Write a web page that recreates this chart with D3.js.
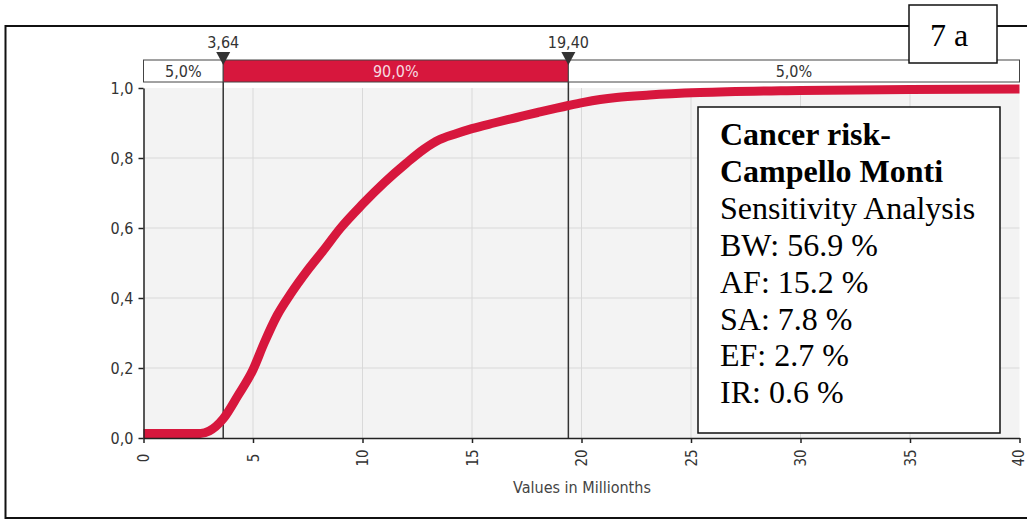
<!DOCTYPE html>
<html><head><meta charset="utf-8">
<script src="https://cdn.jsdelivr.net/npm/d3@7"></script>
<style>body{margin:0;background:#fff}svg{display:block}</style>
</head><body><svg id="c" width="1027" height="520"></svg>
<script>
// ---- data ----
const cdfX = [0, 1, 2, 2.6, 3.0, 3.64, 4.3, 5.0, 5.5, 6.1, 6.7, 7.5, 8.2, 9.0, 10.0, 11.0, 12.0, 12.8, 13.5, 14.2, 15.0, 16.0, 17.0, 18.0, 19.4, 20.1, 20.85, 21.6, 23.1, 25.4, 30, 35, 40];
const cdfY = [0.013, 0.013, 0.013, 0.013, 0.02, 0.055, 0.12, 0.195, 0.27, 0.35, 0.41, 0.48, 0.535, 0.6, 0.668, 0.73, 0.785, 0.825, 0.852, 0.868, 0.884, 0.9, 0.915, 0.93, 0.95, 0.959, 0.967, 0.973, 0.98, 0.987, 0.993, 0.996, 0.997];
const xTicks = [0, 5, 10, 15, 20, 25, 30, 35, 40];
const yTicks = [0, 0.2, 0.4, 0.6, 0.8, 1.0];
const markers = [3.64, 19.40];
const markerLabels = ["3,64", "19,40"];
const bandEdges = [0, 3.64, 19.40, 40];
const bandLabels = ["5,0%", "90,0%", "5,0%"];
const infoTitle = ["Cancer risk-", "Campello Monti"];
const infoLines = ["Sensitivity Analysis", "BW: 56.9 %", "AF: 15.2 %", "SA: 7.8 %", "EF: 2.7 %", "IR: 0.6 %"];
const panelLabel = "7 a";
const xTitle = "Values in Millionths";

// ---- drawing ----
const svg = d3.select("#c");
const RED = "#d7173d";
const SANS = "'DejaVu Sans Condensed','DejaVu Sans',sans-serif";
const SERIF = "'Liberation Serif','Times New Roman',serif";
const x = d3.scaleLinear([0, 40], [143.5, 1019.5]);
const y = d3.scaleLinear([0, 1], [438, 88]);
const fmt = d => d.toFixed(1).replace('.', ',');

// outer frame
svg.append("path").attr("d", "M1027,26H5.5V518H1027").attr("fill", "none").attr("stroke", "#111").attr("stroke-width", 2);

// plot background
svg.append("rect").attr("x", x(0)).attr("y", y(1)).attr("width", x(40) - x(0)).attr("height", y(0) - y(1)).attr("fill", "#f3f3f3");

// grid
svg.append("g").selectAll("line").data(xTicks.slice(1, -1)).join("line")
  .attr("x1", d => x(d)).attr("x2", d => x(d)).attr("y1", y(1)).attr("y2", y(0))
  .attr("stroke", "#d9d9d9").attr("stroke-width", 1);
svg.append("g").selectAll("line").data(yTicks.slice(1, -1)).join("line")
  .attr("y1", d => y(d)).attr("y2", d => y(d)).attr("x1", x(0)).attr("x2", x(40))
  .attr("stroke", "#d9d9d9").attr("stroke-width", 1);

// marker lines
svg.append("g").selectAll("line").data(markers).join("line")
  .attr("x1", d => x(d)).attr("x2", d => x(d)).attr("y1", 82).attr("y2", y(0))
  .attr("stroke", "#333").attr("stroke-width", 1.5);

// curve
const pts = cdfX.map((v, i) => [v, cdfY[i]]);
svg.append("path").datum(pts)
  .attr("d", d3.line().x(d => x(d[0])).y(d => y(d[1])).curve(d3.curveMonotoneX))
  .attr("fill", "none").attr("stroke", RED).attr("stroke-width", 9).attr("stroke-linejoin", "round");

// axes
const ya = svg.append("g").attr("transform", `translate(${x(0)},0)`)
  .call(d3.axisLeft(y).tickValues(yTicks).tickFormat(fmt).tickSize(5).tickSizeOuter(0).tickPadding(5));
ya.select(".domain").attr("stroke", "#222").attr("stroke-width", 1.5);
ya.selectAll(".tick line").attr("stroke", "#222").attr("stroke-width", 1.5);
ya.selectAll("text").attr("font-family", SANS).attr("font-size", 16).attr("fill", "#333");

const xa = svg.append("g").attr("transform", `translate(0,${y(0)})`)
  .call(d3.axisBottom(x).tickValues(xTicks).tickSize(5).tickSizeOuter(0));
xa.select(".domain").attr("stroke", "#222").attr("stroke-width", 1.5);
xa.selectAll(".tick line").attr("stroke", "#222").attr("stroke-width", 1.5);
xa.selectAll("text").attr("font-family", SANS).attr("font-size", 15).attr("fill", "#333")
  .attr("transform", "rotate(-90)").attr("x", -20).attr("y", d => d === 40 ? -1.5 : 0).attr("dy", "0.35em").attr("text-anchor", "middle");

svg.append("text").attr("x", 582).attr("y", 493).attr("text-anchor", "middle")
  .attr("font-family", SANS).attr("font-size", 16).attr("fill", "#444").text(xTitle);

// band
const segs = bandLabels.map((l, i) => ({ a: bandEdges[i], b: bandEdges[i + 1], l, mid: i === 1 }));
const band = svg.append("g");
band.selectAll("rect").data(segs).join("rect")
  .attr("x", d => x(d.a)).attr("y", 60).attr("width", d => x(d.b) - x(d.a)).attr("height", 22)
  .attr("fill", d => d.mid ? RED : "#fff").attr("stroke", "#444").attr("stroke-width", 1);
band.selectAll("text").data(segs).join("text")
  .attr("x", d => (x(d.a) + x(d.b)) / 2).attr("y", 71).attr("dy", "0.35em").attr("text-anchor", "middle")
  .attr("font-family", SANS).attr("font-size", 16).attr("fill", d => d.mid ? "#f6dbe1" : "#333").text(d => d.l);

// marker triangles & labels
const mk = svg.append("g").selectAll("g").data(markers).join("g").attr("transform", d => `translate(${x(d)},0)`);
mk.append("path").attr("d", "M-7,52H7L0,65Z").attr("fill", "#333");
mk.append("text").data(markerLabels).attr("y", 42).attr("dy", "0.35em").attr("text-anchor", "middle")
  .attr("font-family", SANS).attr("font-size", 16).attr("fill", "#333").text(d => d);

// info box
svg.append("rect").attr("x", 698).attr("y", 107).attr("width", 302).attr("height", 326)
  .attr("fill", "#fff").attr("stroke", "#111").attr("stroke-width", 1.5);
const info = svg.append("text").attr("font-family", SERIF).attr("font-size", 32).attr("fill", "#000");
infoTitle.concat(infoLines).forEach((t, i) => {
  info.append("tspan").attr("x", 720).attr("y", 145 + i * 36.9)
    .attr("font-weight", i < infoTitle.length ? "bold" : "normal").text(t);
});

// panel label
svg.append("rect").attr("x", 909).attr("y", 5).attr("width", 88).attr("height", 58)
  .attr("fill", "#fff").attr("stroke", "#111").attr("stroke-width", 1.5);
svg.append("text").attr("x", 930).attr("y", 46).attr("font-family", SERIF).attr("font-size", 32).text(panelLabel);
</script></body></html>
